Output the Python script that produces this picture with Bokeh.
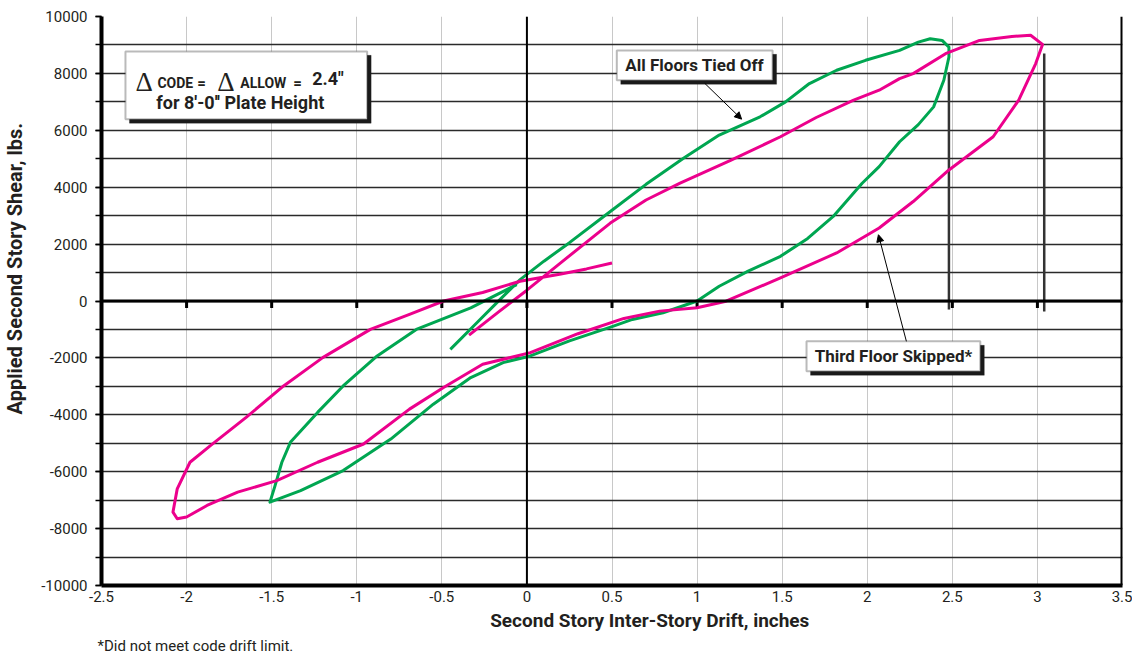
from bokeh.plotting import figure
from bokeh.models import Label, BoxAnnotation, Arrow, NormalHead, FixedTicker, Range1d, Span, Title
from bokeh.embed import file_html
from bokeh.resources import INLINE

# ---------------- data ----------------
tied_x = [-0.45, -0.30, -0.15, -0.04, 0.10, 0.25, 0.49, 0.70, 0.92, 1.13, 1.37, 1.52, 1.66, 1.82,
          1.99, 2.19, 2.30, 2.37, 2.44, 2.48, 2.48, 2.45, 2.39, 2.30, 2.19, 2.07, 1.97, 1.80, 1.65,
          1.49, 1.30, 1.13, 1.00, 0.80, 0.62, 0.50, 0.25, 0.02, -0.14, -0.33, -0.55, -0.80, -1.08,
          -1.33, -1.51, -1.48, -1.44, -1.39, -1.23, -1.08, -0.88, -0.65, -0.33, -0.06]
tied_y = [-1700, -800, 100, 753, 1400, 2050, 3146, 4100, 5016, 5833, 6474, 7000, 7643, 8110,
          8460, 8810, 9100, 9220, 9160, 8926, 8576, 7760, 6824, 6200, 5598, 4722, 4140, 2971, 2200,
          1570, 1050, 519, 0, -414, -648, -900, -1400, -1932, -2165, -2691, -3626, -4852, -5962,
          -6663, -7070, -6488, -5668, -4967, -3916, -2985, -1932, -998, -240, 578]

skip_x = [-0.34, -0.17, 0.00, 0.20, 0.49, 0.70, 0.90, 1.20, 1.49, 1.70, 1.92, 2.07, 2.19, 2.27,
          2.46, 2.66, 2.85, 2.96, 3.03, 2.99, 2.89, 2.74, 2.48, 2.27, 2.07, 1.82, 1.49, 1.17, 1.00,
          0.78, 0.57, 0.30, 0.02, -0.26, -0.49, -0.69, -0.96, -1.23, -1.47, -1.70, -1.88, -2.00,
          -2.055, -2.08, -2.055, -1.98, -1.86, -1.65, -1.43, -1.20, -0.92, -0.69, -0.49, -0.26,
          -0.04, 0.20, 0.35, 0.50]
skip_y = [-1200, -400, 380, 1350, 2738, 3550, 4140, 4950, 5773, 6450, 7059, 7409, 7818, 7993,
          8694, 9160, 9300, 9340, 9020, 8344, 7059, 5773, 4606, 3496, 2564, 1688, 812, -7, -240,
          -356, -613, -1150, -1815, -2224, -3041, -3801, -5027, -5668, -6312, -6719, -7188, -7594,
          -7654, -7419, -6603, -5668, -5086, -4092, -2985, -1990, -998, -473, 0, 300,
          694, 950, 1128, 1338]

limit_x = [2.48, 3.04]
limit_y0 = [-300, -370]
limit_y1 = [8040, 8700]

x_ticks = [-2.5, -2.0, -1.5, -1.0, -0.5, 0.0, 0.5, 1.0, 1.5, 2.0, 2.5, 3.0, 3.5]
x_tick_labels = ["-2.5", "-2", "-1.5", "-1", "-0.5", "0", "0.5", "1", "1.5", "2", "2.5", "3", "3.5"]
y_ticks = [-10000, -8000, -6000, -4000, -2000, 0, 2000, 4000, 6000, 8000, 10000]
y_tick_labels = ["-10000", "-8000", "-6000", "-4000", "-2000", "0", "2000", "4000", "6000", "8000", "10000"]
y_minor = list(range(-10000, 10001, 1000))
zero_ticks = [-2.0, -1.5, -1.0, -0.5, 0.0, 0.5, 1.0, 1.5, 2.0, 2.5, 3.0]

FONT = "Roboto"
GREEN = "#00a651"
PINK = "#ec008c"
INK = "#231f20"
NB = "\u00a0"

PX_X = 170.4      # px per inch
PX_Y = 0.02855    # px per lb
X0_PX = 527
Y0_PX = 301.5


def px2x(px):
    return (px - X0_PX) / PX_X


def py2y(py):
    return (Y0_PX - py) / PX_Y


p = figure(width=1132, height=654, x_range=Range1d(-2.5, 3.5), y_range=Range1d(-10000, 10000),
           output_backend="svg", toolbar_location=None,
           min_border_left=100, min_border_right=10, min_border_top=16, min_border_bottom=67)
p.outline_line_color = None
p.background_fill_color = "white"

# grids
p.xgrid.ticker = FixedTicker(ticks=x_ticks)
p.xgrid.grid_line_color = "#c8c8c8"
p.xgrid.grid_line_width = 1
p.ygrid.ticker = FixedTicker(ticks=y_minor)
p.ygrid.grid_line_color = "#2a2a2a"
p.ygrid.grid_line_width = 1.3

# y axis
p.yaxis.ticker = FixedTicker(ticks=y_ticks, minor_ticks=y_minor)
p.yaxis.major_label_overrides = {t: l for t, l in zip(y_ticks, y_tick_labels)}
p.yaxis.axis_line_width = 4
p.yaxis.axis_line_color = "black"
p.yaxis.major_tick_out = 6
p.yaxis.major_tick_in = 0
p.yaxis.minor_tick_out = 6
p.yaxis.minor_tick_in = 0
p.yaxis.major_tick_line_width = 1.5
p.yaxis.minor_tick_line_width = 1.5
p.yaxis.major_label_text_font = FONT
p.yaxis.major_label_text_font_size = "15px"
p.yaxis.major_label_text_color = INK
p.yaxis.major_label_standoff = 8
p.yaxis.axis_label = NB * 13 + "Applied Second Story Shear, lbs."
p.yaxis.axis_label_text_font = FONT
p.yaxis.axis_label_text_font_style = "bold"
p.yaxis.axis_label_text_font_size = "20px"
p.yaxis.axis_label_text_color = INK
p.yaxis.axis_label_standoff = 11

# x axis
p.xaxis.ticker = FixedTicker(ticks=x_ticks)
p.xaxis.major_label_overrides = {t: l for t, l in zip(x_ticks, x_tick_labels)}
p.xaxis.axis_line_width = 4
p.xaxis.axis_line_color = "black"
p.xaxis.major_tick_out = 0
p.xaxis.major_tick_in = 0
p.xaxis.minor_tick_out = 0
p.xaxis.minor_tick_in = 0
p.xaxis.major_label_text_font = FONT
p.xaxis.major_label_text_font_size = "15px"
p.xaxis.major_label_text_color = INK
p.xaxis.major_label_standoff = 5
p.xaxis.axis_label = NB * 16 + "Second Story Inter-Story Drift, inches"
p.xaxis.axis_label_text_font = FONT
p.xaxis.axis_label_text_font_style = "bold"
p.xaxis.axis_label_text_font_size = "19px"
p.xaxis.axis_label_text_color = INK
p.xaxis.axis_label_standoff = 4

# footnote
p.add_layout(Title(text="*Did not meet code drift limit.", align="left", offset=-4, standoff=0,
                   text_font=FONT, text_font_style="normal", text_font_size="15px", text_color=INK),
             "below")

# frame / zero lines
p.add_layout(Span(location=3.5, dimension="height", line_color="black", line_width=4))
p.add_layout(Span(location=0, dimension="width", line_color="black", line_width=3))
p.add_layout(Span(location=0, dimension="height", line_color="black", line_width=2))
p.segment(x0=zero_ticks, y0=[0] * len(zero_ticks), x1=zero_ticks, y1=[-7 / PX_Y] * len(zero_ticks),
          line_color="black", line_width=3)

# drift limit lines
p.segment(x0=limit_x, y0=limit_y0, x1=limit_x, y1=limit_y1, line_color="#333333", line_width=2.5)

# curves
p.line(tied_x, tied_y, line_color=GREEN, line_width=3, line_join="round")
p.line(skip_x, skip_y, line_color=PINK, line_width=3, line_join="round")


def shadow_box(l, r, t, b):
    p.add_layout(BoxAnnotation(left=px2x(l + 4), right=px2x(r + 4), top=py2y(t + 4), bottom=py2y(b + 4),
                               fill_color="#1a1a1a", fill_alpha=1, line_color="#1a1a1a", line_width=1))
    p.add_layout(BoxAnnotation(left=px2x(l), right=px2x(r), top=py2y(t), bottom=py2y(b),
                               fill_color="white", fill_alpha=1, line_color="#1a1a1a", line_width=2))


BOLD = dict(text_font=FONT, text_font_style="bold", text_color=INK)

# box 1 (code limit)
shadow_box(125, 367, 51, 119)
p.add_layout(Label(x=px2x(135), y=py2y(82), text="\u0394", text_font="Liberation Serif",
                   text_font_size="27px", text_color=INK, text_baseline="alphabetic"))
p.add_layout(Label(x=px2x(157), y=py2y(83), text="CODE", text_font_size="14px", text_baseline="alphabetic", **BOLD))
p.add_layout(Label(x=px2x(197), y=py2y(83), text="=", text_font_size="15px", text_baseline="alphabetic", **BOLD))
p.add_layout(Label(x=px2x(217), y=py2y(82), text="\u0394", text_font="Liberation Serif",
                   text_font_size="27px", text_color=INK, text_baseline="alphabetic"))
p.add_layout(Label(x=px2x(240), y=py2y(83), text="ALLOW", text_font_size="14px", text_baseline="alphabetic", **BOLD))
p.add_layout(Label(x=px2x(293), y=py2y(83), text="=", text_font_size="15px", text_baseline="alphabetic", **BOLD))
p.add_layout(Label(x=px2x(312), y=py2y(78), text="2.4\"", text_font_size="18px", text_baseline="alphabetic", **BOLD))
p.segment(x0=[px2x(311)], y0=[py2y(84)], x1=[px2x(343)], y1=[py2y(84)], line_color=INK, line_width=2)
p.add_layout(Label(x=px2x(240), y=py2y(102), text="for 8'-0'' Plate Height", text_font_size="18px",
                   text_align="center", text_baseline="middle", **BOLD))

# box 2
shadow_box(617, 773, 50, 80)
p.add_layout(Label(x=px2x(695), y=py2y(65), text="All Floors Tied Off", text_font_size="17px",
                   text_align="center", text_baseline="middle", **BOLD))
p.add_layout(Arrow(end=NormalHead(size=7, fill_color="black", line_color="black"),
                   x_start=px2x(705), y_start=py2y(83), x_end=px2x(742), y_end=py2y(119),
                   line_color="black", line_width=1))

# box 3
shadow_box(807, 981, 342, 372)
p.add_layout(Label(x=px2x(894), y=py2y(357), text="Third Floor Skipped*", text_font_size="17px",
                   text_align="center", text_baseline="middle", **BOLD))
p.add_layout(Arrow(end=NormalHead(size=7, fill_color="black", line_color="black"),
                   x_start=px2x(907), y_start=py2y(342), x_end=px2x(879), y_end=py2y(235),
                   line_color="black", line_width=1))

open("out.html", "w").write(file_html(p, INLINE))
